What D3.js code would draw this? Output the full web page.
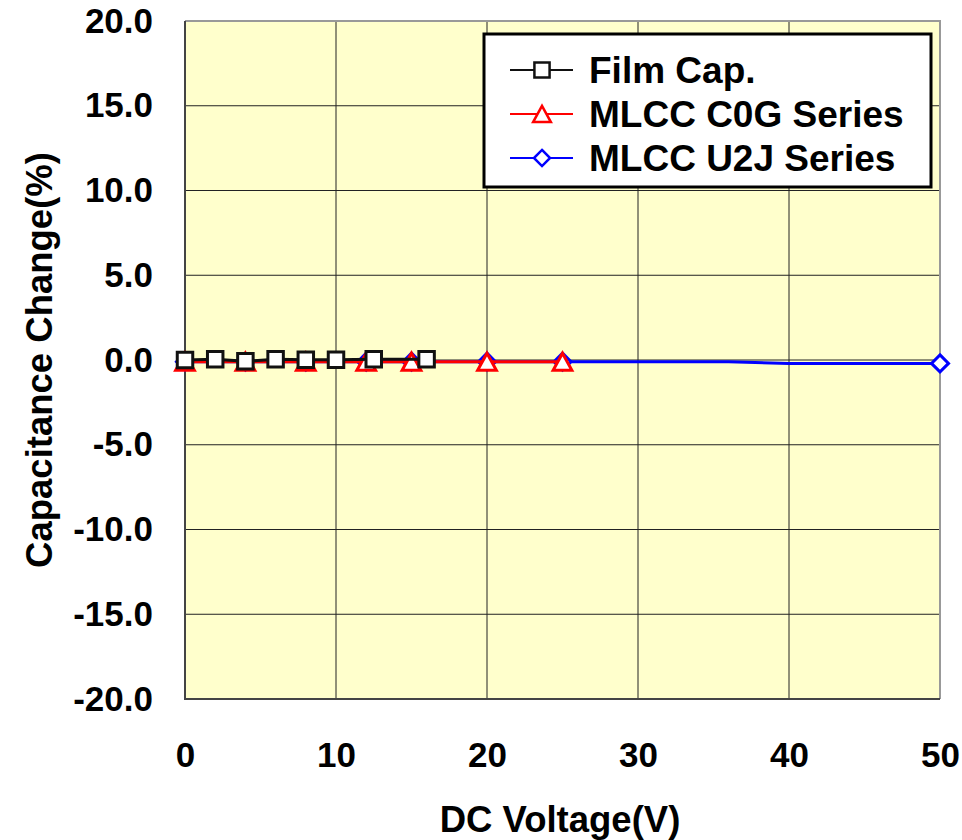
<!DOCTYPE html>
<html>
<head>
<meta charset="utf-8">
<script src="https://cdn.jsdelivr.net/npm/d3@7"></script>
<style>
  body { margin: 0; background: #fff; }
  text { font-family: "Liberation Sans", Arial, sans-serif; font-weight: bold; }
</style>
</head>
<body>
<svg></svg>
<script>
// chart size
let width = 962,
  height = 840;

let svg = d3.select("svg").attr("width", width).attr("height", height);

// data
const xTicks = [0, 10, 20, 30, 40, 50];
const yTicks = [-20, -15, -10, -5, 0, 5, 10, 15, 20];

const filmV = [0, 2, 4, 6, 8, 10, 12.5, 16];
const filmC = [0, 0.05, -0.08, 0.05, 0.02, 0.02, 0.04, 0.04];

const c0gV = [0, 4, 8, 12, 15, 20, 25];
const c0gC = [-0.1, -0.1, -0.1, -0.1, -0.1, -0.1, -0.1];

const u2jV = [0, 4, 8, 12, 15, 20, 25, 36, 40, 50];
const u2jC = [-0.1, -0.1, -0.1, -0.1, -0.1, -0.1, -0.1, -0.1, -0.2, -0.2];
const u2jMarked = [true, true, true, true, true, true, true, false, false, true];

const seriesNames = ["Film Cap.", "MLCC C0G Series", "MLCC U2J Series"];

// plot area
let pLeft = 185, pRight = 940, pTop = 21, pBottom = 699;

let x = d3.scaleLinear().domain([0, 50]).range([pLeft, pRight]);
let y = d3.scaleLinear().domain([-20, 20]).range([pBottom, pTop]);

svg.append("rect")
  .attr("x", pLeft).attr("y", pTop)
  .attr("width", pRight - pLeft).attr("height", pBottom - pTop)
  .attr("fill", "#ffffcc");

// grid
svg.append("g").selectAll("line")
  .data(yTicks.slice(1, -1))
  .enter().append("line")
  .attr("x1", pLeft).attr("x2", pRight)
  .attr("y1", d => y(d)).attr("y2", d => y(d))
  .attr("stroke", "#222").attr("stroke-width", 1);

svg.append("g").selectAll("line")
  .data(xTicks.slice(1, -1))
  .enter().append("line")
  .attr("y1", pTop).attr("y2", pBottom)
  .attr("x1", d => x(d)).attr("x2", d => x(d))
  .attr("stroke", "#222").attr("stroke-width", 1);

// frame: light top/right, dark left/bottom
svg.append("path")
  .attr("d", `M${pLeft},${pTop}H${pRight}V${pBottom}`)
  .attr("fill", "none").attr("stroke", "#999").attr("stroke-width", 2);
svg.append("path")
  .attr("d", `M${pLeft},${pTop}V${pBottom}H${pRight}`)
  .attr("fill", "none").attr("stroke", "#444").attr("stroke-width", 2);

// axes labels (plain hyphen for negatives, like the original)
let fmtY = d => d3.format(".1f")(d).replace("\u2212", "-");

let yAxis = svg.append("g")
  .attr("transform", `translate(${pLeft},0)`)
  .call(d3.axisLeft(y).tickValues(yTicks).tickFormat(fmtY).tickSize(0).tickPadding(32));
yAxis.select(".domain").remove();
yAxis.selectAll("text")
  .style("font-size", "35px")
  .style("font-family", "'Liberation Sans', Arial, sans-serif")
  .style("font-weight", "bold")
  .attr("fill", "#000");

let xAxis = svg.append("g")
  .attr("transform", `translate(0,${pBottom})`)
  .call(d3.axisBottom(x).tickValues(xTicks).tickFormat(d3.format("d")).tickSize(0).tickPadding(0));
xAxis.select(".domain").remove();
xAxis.selectAll("text")
  .attr("y", 68).attr("dy", 0)
  .style("font-size", "35px")
  .style("font-family", "'Liberation Sans', Arial, sans-serif")
  .style("font-weight", "bold")
  .attr("fill", "#000");

svg.append("text")
  .attr("x", 560).attr("y", 832)
  .attr("text-anchor", "middle")
  .style("font-size", "36.5px")
  .text("DC Voltage(V)");

svg.append("text")
  .attr("transform", "translate(52,360) rotate(-90)")
  .attr("text-anchor", "middle")
  .style("font-size", "36.5px")
  .text("Capacitance Change(%)");

// markers centred on their box, as the original software draws them
let squareType = {
  draw(ctx, size) {
    let s = Math.sqrt(size) / 2;
    ctx.moveTo(-s, -s); ctx.lineTo(s, -s); ctx.lineTo(s, s); ctx.lineTo(-s, s); ctx.closePath();
  }
};
let triangleType = {
  draw(ctx, size) {
    let s = Math.sqrt(size) / 2;
    ctx.moveTo(0, -s); ctx.lineTo(s * 1.1, s); ctx.lineTo(-s * 1.1, s); ctx.closePath();
  }
};
let diamondType = {
  draw(ctx, size) {
    let s = Math.sqrt(size) / 2;
    ctx.moveTo(0, -s); ctx.lineTo(s, 0); ctx.lineTo(0, s); ctx.lineTo(-s, 0); ctx.closePath();
  }
};

let line = d3.line().x(d => x(d[0])).y(d => y(d[1]));

let sq = d3.symbol().type(squareType).size(240);
let tri = d3.symbol().type(triangleType).size(290);
let dia = d3.symbol().type(diamondType).size(290);

function drawSeries(vs, cs, color, sym, marked) {
  let pts = vs.map((v, i) => [v, cs[i], marked ? marked[i] : true]);
  svg.append("path")
    .attr("d", line(pts))
    .attr("fill", "none").attr("stroke", color).attr("stroke-width", 3);
  svg.append("g").selectAll("path")
    .data(pts.filter(p => p[2]))
    .enter().append("path")
    .attr("d", sym)
    .attr("transform", p => `translate(${x(p[0])},${y(p[1])})`)
    .attr("fill", "#fff").attr("stroke", color).attr("stroke-width", 3);
}

// drawn in reverse so Film sits on top
drawSeries(u2jV, u2jC, "#0000ff", dia, u2jMarked);
drawSeries(c0gV, c0gC, "#ff0000", tri, null);
drawSeries(filmV, filmC, "#111", sq, null);

// legend
let lg = svg.append("g");
lg.append("rect")
  .attr("x", 484).attr("y", 34).attr("width", 447).attr("height", 153)
  .attr("fill", "#fff").attr("stroke", "#000").attr("stroke-width", 3);

let legColors = ["#111", "#ff0000", "#0000ff"];
let legSyms = [
  d3.symbol().type(squareType).size(230),
  d3.symbol().type(triangleType).size(260),
  d3.symbol().type(diamondType).size(260)
];

seriesNames.forEach((name, i) => {
  let cy = 70 + i * 44;
  lg.append("line")
    .attr("x1", 510).attr("x2", 573).attr("y1", cy).attr("y2", cy)
    .attr("stroke", legColors[i]).attr("stroke-width", 2);
  lg.append("path")
    .attr("d", legSyms[i])
    .attr("transform", `translate(542,${cy})`)
    .attr("fill", "#fff").attr("stroke", legColors[i]).attr("stroke-width", 2.5);
  lg.append("text")
    .attr("x", 589).attr("y", cy + 13)
    .style("font-size", "37px")
    .text(name);
});
</script>
</body>
</html>
